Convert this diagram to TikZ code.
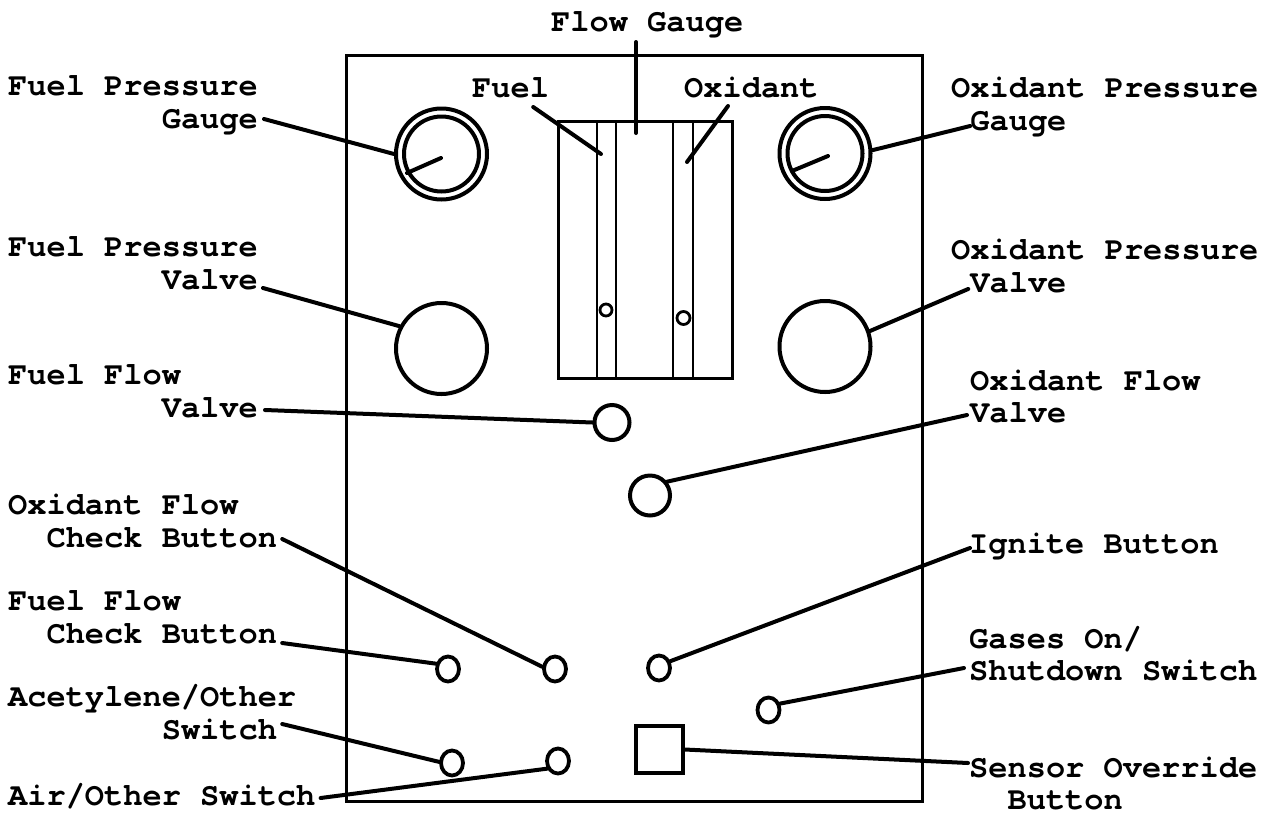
\documentclass[tikz,border=0pt]{standalone}
\usepackage{fontspec}
\setmainfont{TeX Gyre Cursor}
\usetikzlibrary{calc,shapes.geometric}
\begin{document}
\begin{tikzpicture}[x=1pt,y=-1pt,
  lbl/.style={font=\fontsize{32}{34}\selectfont\bfseries, inner sep=0pt, anchor=base west},
  wire/.style={line width=4pt, line cap=round},
  ring/.style={draw, circle, line width=4pt, inner sep=0pt},
  knob/.style={draw, ellipse, line width=3.8pt, inner sep=0pt, minimum width=22pt, minimum height=25pt},
  frame/.style={line width=3pt},
  tube/.style={line width=2.8pt}]
\def\cw{19.2}
\useasboundingbox (0,0) rectangle (1277,815);
\fill[white] (0,0) rectangle (1277,815);

% control panel outline
\draw[frame] (346,55) rectangle (922,801);

% pressure gauges
\node[ring, minimum size=91pt] (fpg) at (441.5,154) {};
\draw[line width=4pt] (fpg.center) circle[radius=37.5];
\draw[wire] ($(fpg.center)+(-0.5,4)$) -- +(-34,15);
\node[ring, minimum size=91pt] (opg) at (825,153.5) {};
\draw[line width=4pt] (opg.center) circle[radius=37.5];
\draw[wire] ($(opg.center)+(3,2.5)$) -- +(-36,15);

% pressure valves
\node[ring, minimum size=91pt] (fpv) at (441.5,348.5) {};
\node[ring, minimum size=91pt] (opv) at (825,346.5) {};

% flow valves
\node[ring, minimum size=35pt] (ffv) at (612,422.5) {};
\node[ring, minimum size=40pt] (ofv) at (650,495.5) {};

% flow gauge with its two tubes and floats
\node[draw, frame, minimum width=174pt, minimum height=257pt, inner sep=0pt] (fg) at (645,249.5) {};
\foreach \x in {597,616,673,693} \draw[tube] (\x,121) -- (\x,378);
\draw[tube] (606,310) circle[radius=6];
\draw[tube] (683.5,318) circle[radius=6.5];

% buttons and switches
\node[knob] (ffcb) at (448,669) {};
\node[knob] (ofcb) at (555,669) {};
\node[knob] (ignb) at (659,668) {};
\node[knob] (gasb) at (768.5,710) {};
\node[knob] (aceb) at (452,763) {};
\node[knob] (airb) at (558,761) {};
\node[draw, line width=3.2pt, minimum size=47pt, inner sep=0pt] (ovr) at (659.5,749.5) {};

% left labels
\node[lbl] (fpg1) at (8,95) {Fuel Pressure};
\node[lbl] (fpg2) at ({8+8*\cw},128) {Gauge};
\node[lbl] (fpv1) at (8,256) {Fuel Pressure};
\node[lbl] (fpv2) at ({8+8*\cw},289) {Valve};
\node[lbl] (ffv1) at (8,384) {Fuel Flow};
\node[lbl] (ffv2) at ({8+8*\cw},417) {Valve};
\node[lbl] (ofc1) at (8,514) {Oxidant Flow};
\node[lbl] (ofc2) at ({8+2*\cw},547) {Check Button};
\node[lbl] (ffc1) at (8,610) {Fuel Flow};
\node[lbl] (ffc2) at ({8+2*\cw},643) {Check Button};
\node[lbl] (ace1) at (8,706) {Acetylene/Other};
\node[lbl] (ace2) at ({8+8*\cw},739) {Switch};
\node[lbl] (air) at (8,805) {Air/Other Switch};

% right labels
\node[lbl] (opg1) at (951,97) {Oxidant Pressure};
\node[lbl] (opg2) at ({951+\cw},130) {Gauge};
\node[lbl] (opv1) at (951,259) {Oxidant Pressure};
\node[lbl] (opv2) at ({951+\cw},292) {Valve};
\node[lbl] (ofv1) at (970,390) {Oxidant Flow};
\node[lbl] (ofv2) at (970,422) {Valve};
\node[lbl] (ign) at (969,553) {Ignite Button};
\node[lbl] (gas1) at (969,648) {Gases On/};
\node[lbl] (gas2) at (969,680) {Shutdown Switch};
\node[lbl] (sen1) at (969,777) {Sensor Override};
\node[lbl] (sen2) at ({969+2*\cw},809) {Button};

% top labels
\node[lbl] (flow) at (551,31) {Flow Gauge};
\node[lbl] (fuel) at (472,97) {Fuel};
\node[lbl] (oxi) at (684,97) {Oxidant};

% leaders into the flow gauge
\coordinate (fgpin) at (636,133);
\coordinate (fuelpt) at (601,154);
\coordinate (oxipt) at (687,162);
\path (flow.base) ++(0,11) coordinate (fgtop);
\draw[wire] (fgtop -| fgpin) -- (fgpin);
\draw[wire] ($(fuel.base east)+(-16,10)$) -- (fuelpt);
\draw[wire] ($(oxi.base west)+(44,9)$) -- (oxipt);

% leaders on the left
\draw[wire] ($(fpg2.base east)+(6,-9)$) -- (fpg.west);
\draw[wire] ($(fpv2.base east)+(5,-1)$) -- (fpv.152);
\draw[wire] ($(ffv2.base east)+(7,-7)$) -- (ffv.west);
\draw[wire] ($(ofc2.base east)+(5,-8)$) -- (ofcb.170);
\draw[wire] ($(ffc2.base east)+(5,0)$) -- (ffcb.156);
\draw[wire] ($(ace2.base east)+(5,-15)$) -- (aceb.175);
\draw[wire] ($(air.base east)+(5,-7)$) -- (airb.215);

% leaders on the right
\draw[wire] (opg.4) -- ($(opg2.base west)+(0,-4)$);
\draw[wire] (opv.19) -- ($(opv2.base west)+(-2,-3)$);
\draw[wire] (ofv.39) -- ($(ofv2.base west)+(-3,-7)$);
\draw[wire] (ignb.31) -- ($(ign.base west)+(1,-5)$);
\draw[wire] (gasb.29) -- ($(gas2.base west)+(-5,-12)$);
\draw[wire] (ovr.east) -- ($(sen1.base west)+(-1,-14)$);
\end{tikzpicture}
\end{document}
